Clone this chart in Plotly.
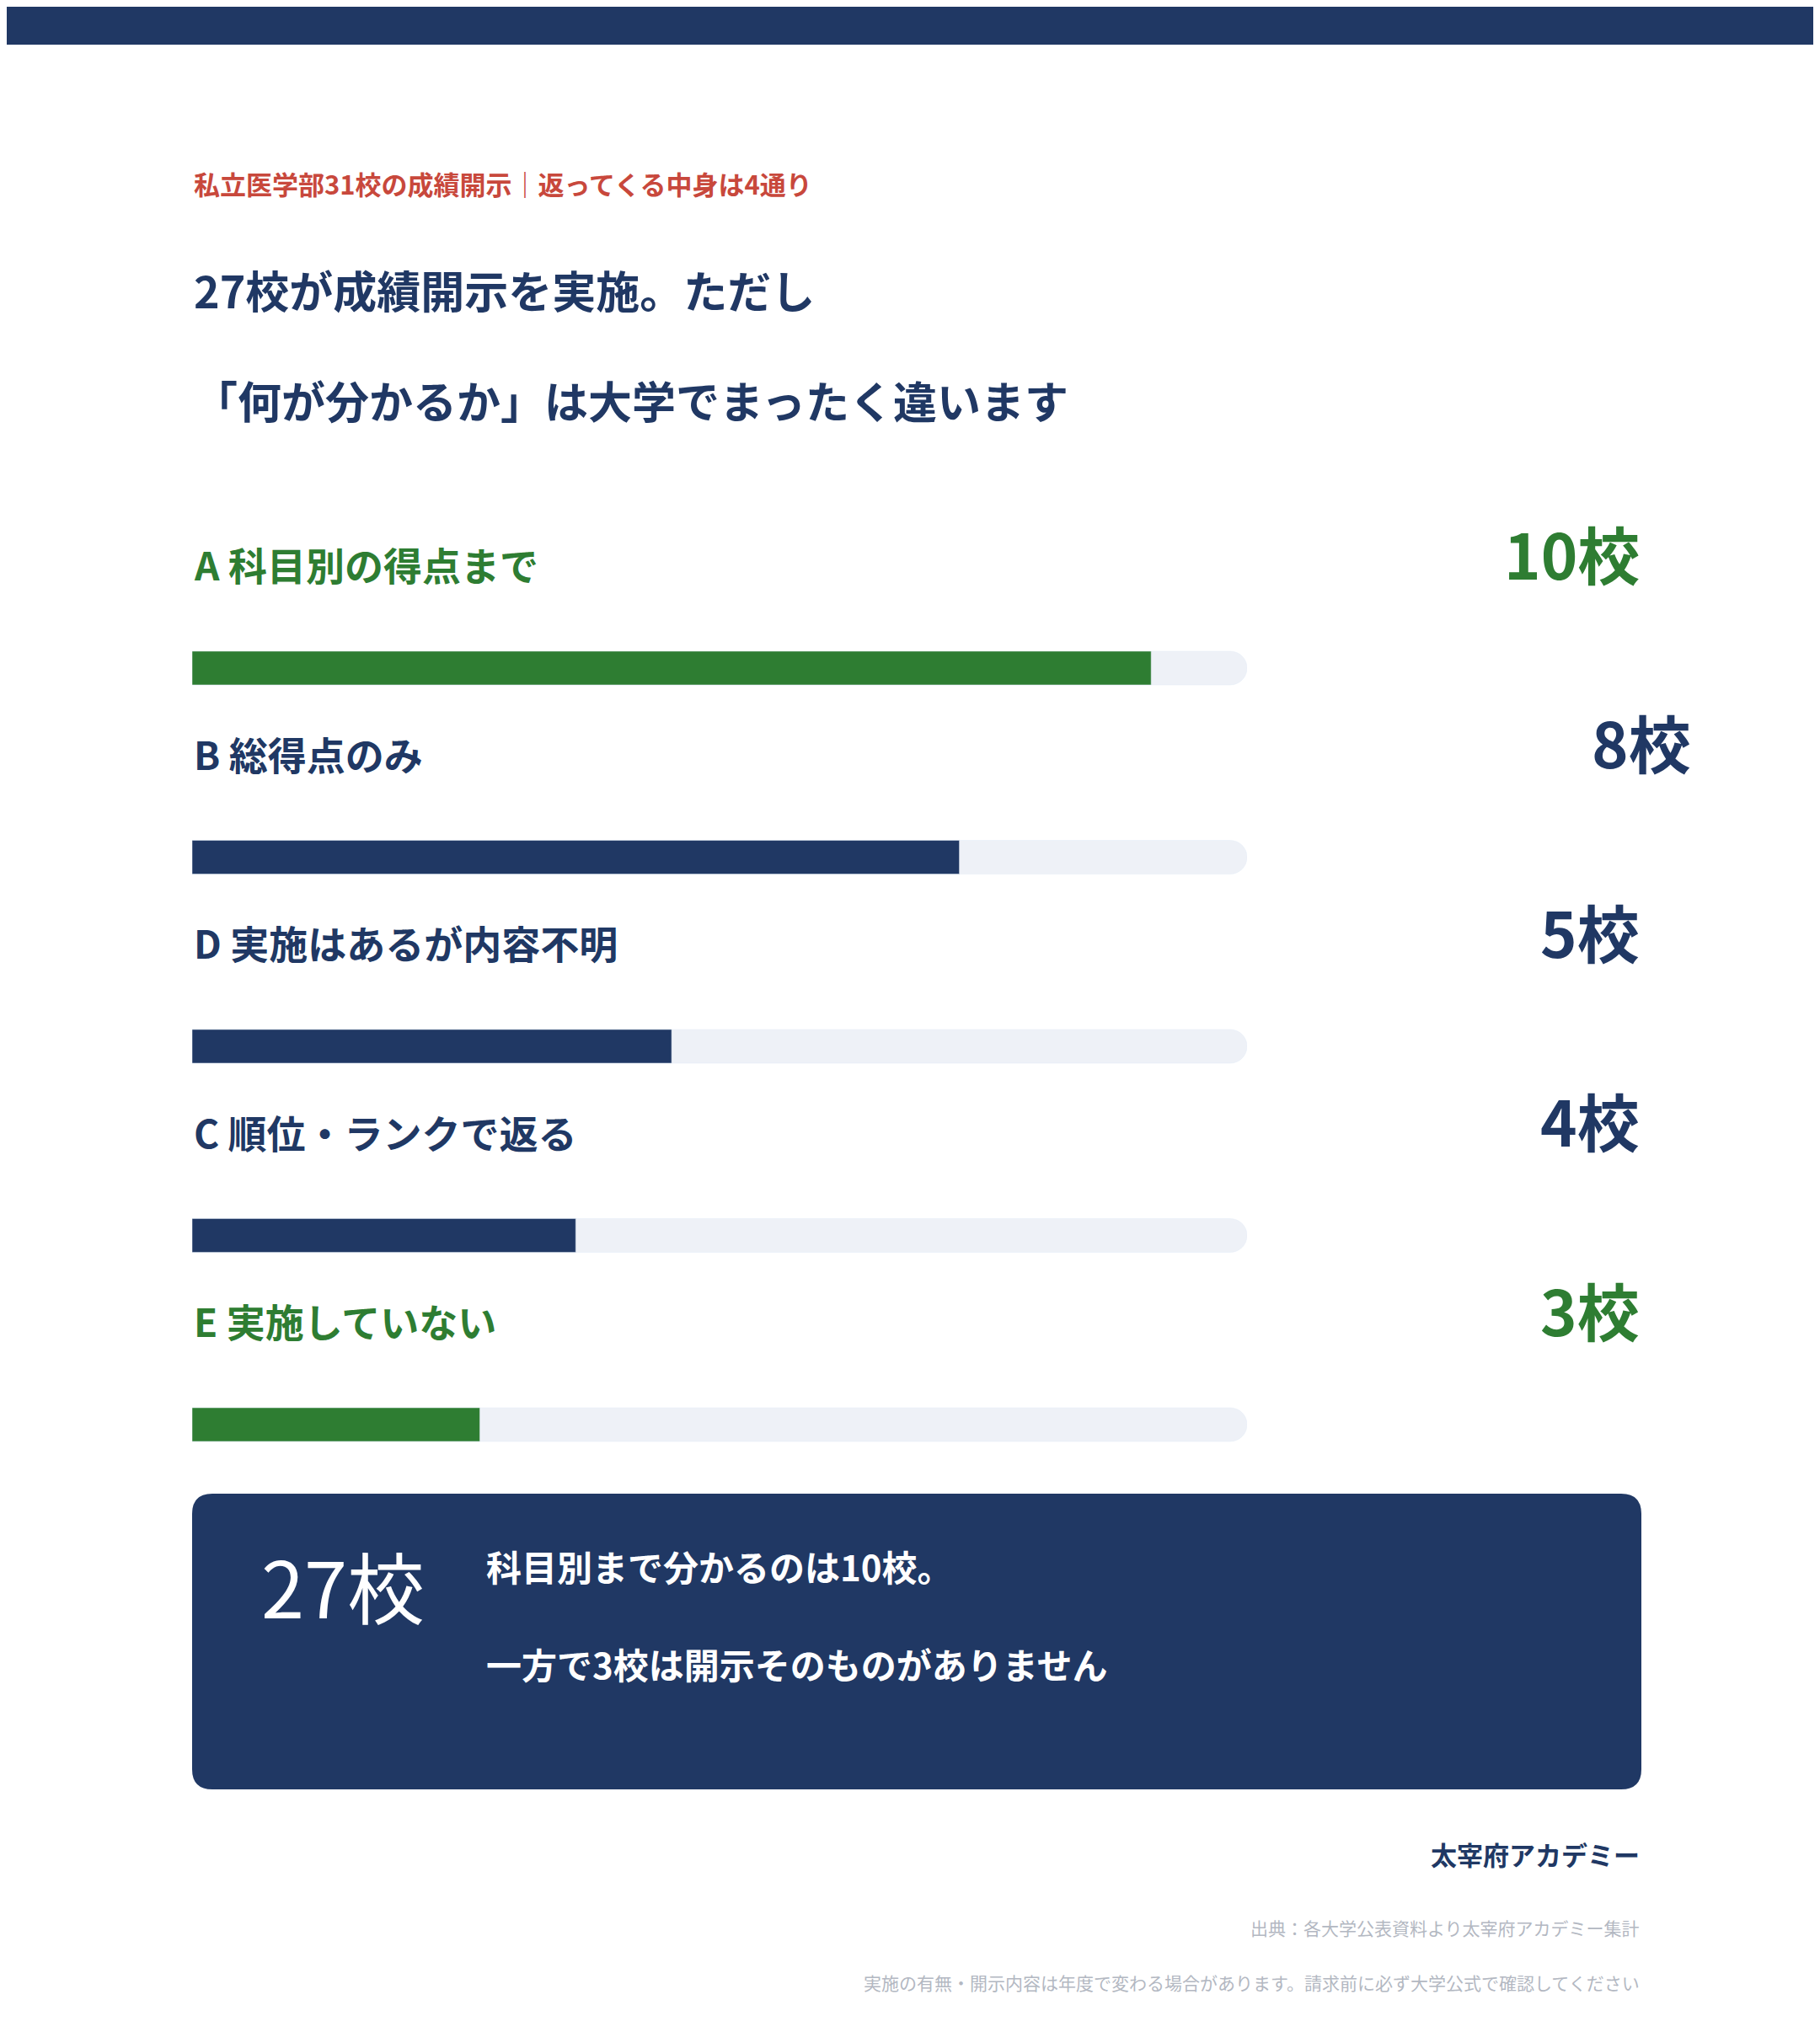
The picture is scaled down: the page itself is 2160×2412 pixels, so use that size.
import plotly.graph_objects as go

W, H = 2160, 2412
NAVY = "#203864"
GREEN = "#2E7D32"
RED = "#C8483C"
TRACK = "#EEF1F7"
FONT = "Noto Sans CJK JP"

labels = ["A 科目別の得点まで", "B 総得点のみ", "D 実施はあるが内容不明", "C 順位・ランクで返る", "E 実施していない"]
counts = [10, 8, 5, 4, 3]
colors = [GREEN, NAVY, NAVY, NAVY, GREEN]
scale_max = 11

fig = go.Figure()
rows = list(range(len(labels)))
fig.add_trace(go.Bar(x=[scale_max] * len(rows), y=rows, orientation="h", width=0.178,
                     marker=dict(color=TRACK), xaxis="x2", yaxis="y2", hoverinfo="skip"))
fig.add_trace(go.Bar(x=counts, y=rows, orientation="h", width=0.178,
                     marker=dict(color=colors), xaxis="x2", yaxis="y2"))

ann = []
def txt(x, y, t, size, color, anchor="left", weight="bold"):
    ann.append(dict(x=x, y=y, xref="x", yref="y", text=t, showarrow=False, xanchor=anchor,
                    yanchor="middle", font=dict(family=FONT, size=size, color=color, weight=weight)))

txt(220, 209, "私立医学部31校の成績開示｜返ってくる中身は4通り", 31, RED)
txt(220, 335, "27校が成績開示を実施。ただし", 52, NAVY)
txt(220, 466, "「何が分かるか」は大学でまったく違います", 52, NAVY)
for i, (lab, c, col) in enumerate(zip(labels, counts, colors)):
    y0 = 785 + i * 224.5
    txt(220, y0 - 124, lab, 46, col)
    txt(1940, y0 - 138, f"{c}校", 74, col, anchor="right")

txt(300, 1872, "27校", 92, "white", weight="normal")
txt(567, 1850, "科目別まで分かるのは10校。", 42, "white")
txt(567, 1966, "一方で3校は開示そのものがありません", 42, "white")
txt(1940, 2192, "太宰府アカデミー", 31, NAVY, anchor="right")
txt(1940, 2280, "出典：各大学公表資料より太宰府アカデミー集計", 21, "#B3B8C2", anchor="right", weight="normal")
txt(1940, 2345, "実施の有無・開示内容は年度で変わる場合があります。請求前に必ず大学公式で確認してください", 21, "#B3B8C2", anchor="right", weight="normal")
ann[6]["xanchor"] = "center"

r = 24
x0, x1, y0, y1 = 220, 1940, 1765, 2116
box = (f"M{x0+r},{y0} L{x1-r},{y0} Q{x1},{y0} {x1},{y0+r} L{x1},{y1-r} Q{x1},{y1} {x1-r},{y1} "
       f"L{x0+r},{y1} Q{x0},{y1} {x0},{y1-r} L{x0},{y0+r} Q{x0},{y0} {x0+r},{y0} Z")
shapes = [
    dict(type="rect", xref="x", yref="y", x0=0, x1=W, y0=0, y1=45, fillcolor=NAVY, line_width=0, layer="below"),
    dict(type="path", xref="x", yref="y", path=box, fillcolor=NAVY, line_width=0, layer="below"),
]

top, bot = 785 - 112.25, 785 + 4 * 224.5 + 112.25
fig.update_layout(
    width=W, height=H, margin=dict(l=0, r=0, t=0, b=0),
    paper_bgcolor="white", plot_bgcolor="rgba(0,0,0,0)",
    showlegend=False, barmode="overlay", barcornerradius=20,
    xaxis=dict(range=[0, W], visible=False, domain=[0, 1]),
    yaxis=dict(range=[H, 0], visible=False, domain=[0, 1]),
    xaxis2=dict(range=[0, scale_max], domain=[220 / W, 1472 / W], visible=False, anchor="y2"),
    yaxis2=dict(range=[4.5, -0.5], domain=[(H - bot) / H, (H - top) / H], visible=False, anchor="x2"),
    annotations=ann, shapes=shapes,
)
fig.write_html("out.html")
